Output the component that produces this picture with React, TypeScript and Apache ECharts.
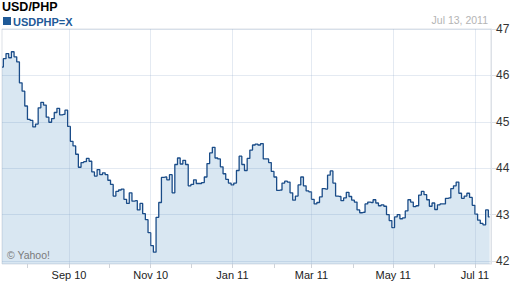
import { useEffect, useRef } from "react";
import * as echarts from "echarts";

const TITLE = "USD/PHP";
const SYMBOL = "USDPHP=X";
const DATE_LABEL = "Jul 13, 2011";
const CREDIT = "© Yahoo!";
const START_DATE = "2010-07-13";
const END_DATE = "2011-07-13";
const STEP_DAYS = 2;

const usdphp = [
  46.18, 46.36, 46.47, 46.38, 46.51, 46.4, 46.29, 45.84, 45.66, 45.34,
  45.05, 45.03, 44.89, 44.95, 45.3, 45.42, 45.36, 45.1, 44.99, 45.07,
  45.2, 45.29, 45.15, 45.16, 45.25, 44.9, 44.58, 44.48, 44.3, 44.02,
  44.12, 44.14, 44.21, 44.15, 43.92, 43.83, 43.97, 43.86, 43.9, 43.86,
  43.74, 43.65, 43.4, 43.5, 43.53, 43.55, 43.33, 43.24, 43.47, 43.29,
  43.3, 43.1, 43.24, 43.02, 42.89, 42.61, 42.33, 42.19, 42.94, 43.26,
  43.8, 43.81, 43.75, 43.86, 43.47, 44.08, 44.22, 44.09, 44.17, 44.08,
  43.62, 43.65, 43.75, 43.67, 43.67, 43.69, 43.81, 44.1, 44.33, 44.45,
  44.22, 44.2, 44.03, 43.88, 43.76, 43.68, 43.64, 43.68, 43.95, 44.26,
  44.08, 43.95, 44.21, 44.39, 44.5, 44.52, 44.5, 44.53, 44.2, 44.2,
  44.12, 43.93, 43.81, 43.52, 43.53, 43.68, 43.72, 43.7, 43.47, 43.31,
  43.4, 43.64, 43.81, 43.62, 43.51, 43.49, 43.33, 43.23, 43.26, 43.38,
  43.56, 43.55, 43.85, 43.94, 43.68, 43.4, 43.39, 43.3, 43.36, 43.48,
  43.39, 43.31, 43.27, 43.1, 43.04, 43.05, 43.23, 43.27, 43.26, 43.32,
  43.25, 43.19, 43.21, 43.18, 43.0, 42.87, 42.72, 42.95, 43.0, 42.91,
  42.93, 43.08, 43.32, 43.27, 43.17, 43.19, 43.42, 43.5, 43.43, 43.32,
  43.18, 43.25, 43.11, 43.21, 43.23, 43.23, 43.35, 43.36, 43.56, 43.62,
  43.7, 43.46, 43.35, 43.4, 43.46, 43.37, 43.2, 43.01, 42.88, 42.81,
  42.78, 43.1, 42.95,
];

const tickMonths = [
  "2010-08-01", "2010-09-01", "2010-10-01", "2010-11-01", "2010-12-01", "2011-01-01",
  "2011-02-01", "2011-03-01", "2011-04-01", "2011-05-01", "2011-06-01", "2011-07-01",
];
const labelMonths = ["2010-09-01", "2010-11-01", "2011-01-01", "2011-03-01", "2011-05-01", "2011-07-01"];
const yTicks = [42, 43, 44, 45, 46, 47];
const MONTH_NAMES = ["Jan", "Feb", "Mar", "Apr", "May", "Jun", "Jul", "Aug", "Sep", "Oct", "Nov", "Dec"];

const DAY = 86400000;
const toTs = (s: string) => Date.parse(s + "T00:00:00Z");

const FONT = "Arial, 'Liberation Sans', sans-serif";
const GRID_COLOR = "rgba(150,172,205,0.26)";

export default function App() {
  const ref = useRef<HTMLDivElement>(null);
  useEffect(() => {
    if (!ref.current) return;
    const chart = echarts.init(ref.current, null, { renderer: "svg" });
    const start = toTs(START_DATE);
    const data = usdphp.map((v, i) => [start + i * STEP_DAYS * DAY, v]);
    chart.setOption({
      animation: false,
      grid: {
        left: 2,
        right: 21,
        top: 29,
        bottom: 24,
        show: true,
        borderColor: "#dde1e7",
        borderWidth: 1,
        backgroundColor: "transparent",
        outerBoundsMode: "none",
      },
      xAxis: {
        type: "value",
        min: start,
        max: toTs(END_DATE),
        scale: true,
        axisLine: { show: false },
        axisTick: {
          show: true,
          length: 4,
          inside: false,
          customValues: tickMonths.map(toTs),
          lineStyle: { color: "#cfd3d9" },
        },
        splitLine: { show: false },
        axisLabel: {
          show: true,
          customValues: labelMonths.map(toTs),
          margin: 5,
          fontSize: 11,
          fontFamily: FONT,
          color: "#222",
          hideOverlap: false,
          formatter: (v: number) => {
            const d = new Date(v);
            return MONTH_NAMES[d.getUTCMonth()] + " " + String(d.getUTCFullYear()).slice(2);
          },
        },
      },
      yAxis: {
        type: "value",
        position: "right",
        min: 41.935,
        max: 47,
        axisLine: { show: true, lineStyle: { color: "#dde1e7" } },
        axisTick: {
          show: true,
          length: 5,
          inside: false,
          customValues: yTicks,
          lineStyle: { color: "#dde1e7" },
        },
        axisLabel: {
          customValues: yTicks,
          margin: 5,
          fontSize: 12,
          fontFamily: FONT,
          color: "#333",
        },
        splitLine: { show: true, lineStyle: { color: GRID_COLOR, width: 1 } },
      },
      series: [
        {
          type: "line",
          data,
          step: "middle",
          symbol: "none",
          lineStyle: { color: "#1a4c88", width: 1.3 },
          areaStyle: { color: "rgba(30,110,175,0.24)", origin: "start" },
          markLine: {
            silent: true,
            symbol: "none",
            label: { show: false },
            lineStyle: { color: GRID_COLOR, width: 1, type: "solid" },
            data: labelMonths.map((m) => ({ xAxis: toTs(m) })),
          },
        },
      ],
      graphic: [
        {
          type: "text",
          style: { text: TITLE, x: 2, y: 6.5, verticalAlign: "middle", font: "bold 12.5px " + FONT, fill: "#000" },
        },
        {
          type: "rect",
          shape: { x: 3, y: 17, width: 8, height: 8 },
          style: { fill: "#1f5a98" },
        },
        {
          type: "text",
          style: { text: SYMBOL, x: 13, y: 21.5, verticalAlign: "middle", font: "bold 11px " + FONT, fill: "#1f5a98" },
        },
        {
          type: "text",
          style: { text: DATE_LABEL, x: 488, y: 19.5, align: "right", verticalAlign: "middle", font: "10.5px " + FONT, fill: "#b4b4b4" },
        },
        {
          type: "text",
          z: 10,
          style: { text: CREDIT, x: 7, y: 255, verticalAlign: "middle", font: "10.5px " + FONT, fill: "#7a7a7a" },
        },
      ],
    });
    return () => chart.dispose();
  }, []);
  return (
    <div
      ref={ref}
      style={{ position: "fixed", left: 0, top: 0, width: 512, height: 288, background: "#fff" }}
    />
  );
}
